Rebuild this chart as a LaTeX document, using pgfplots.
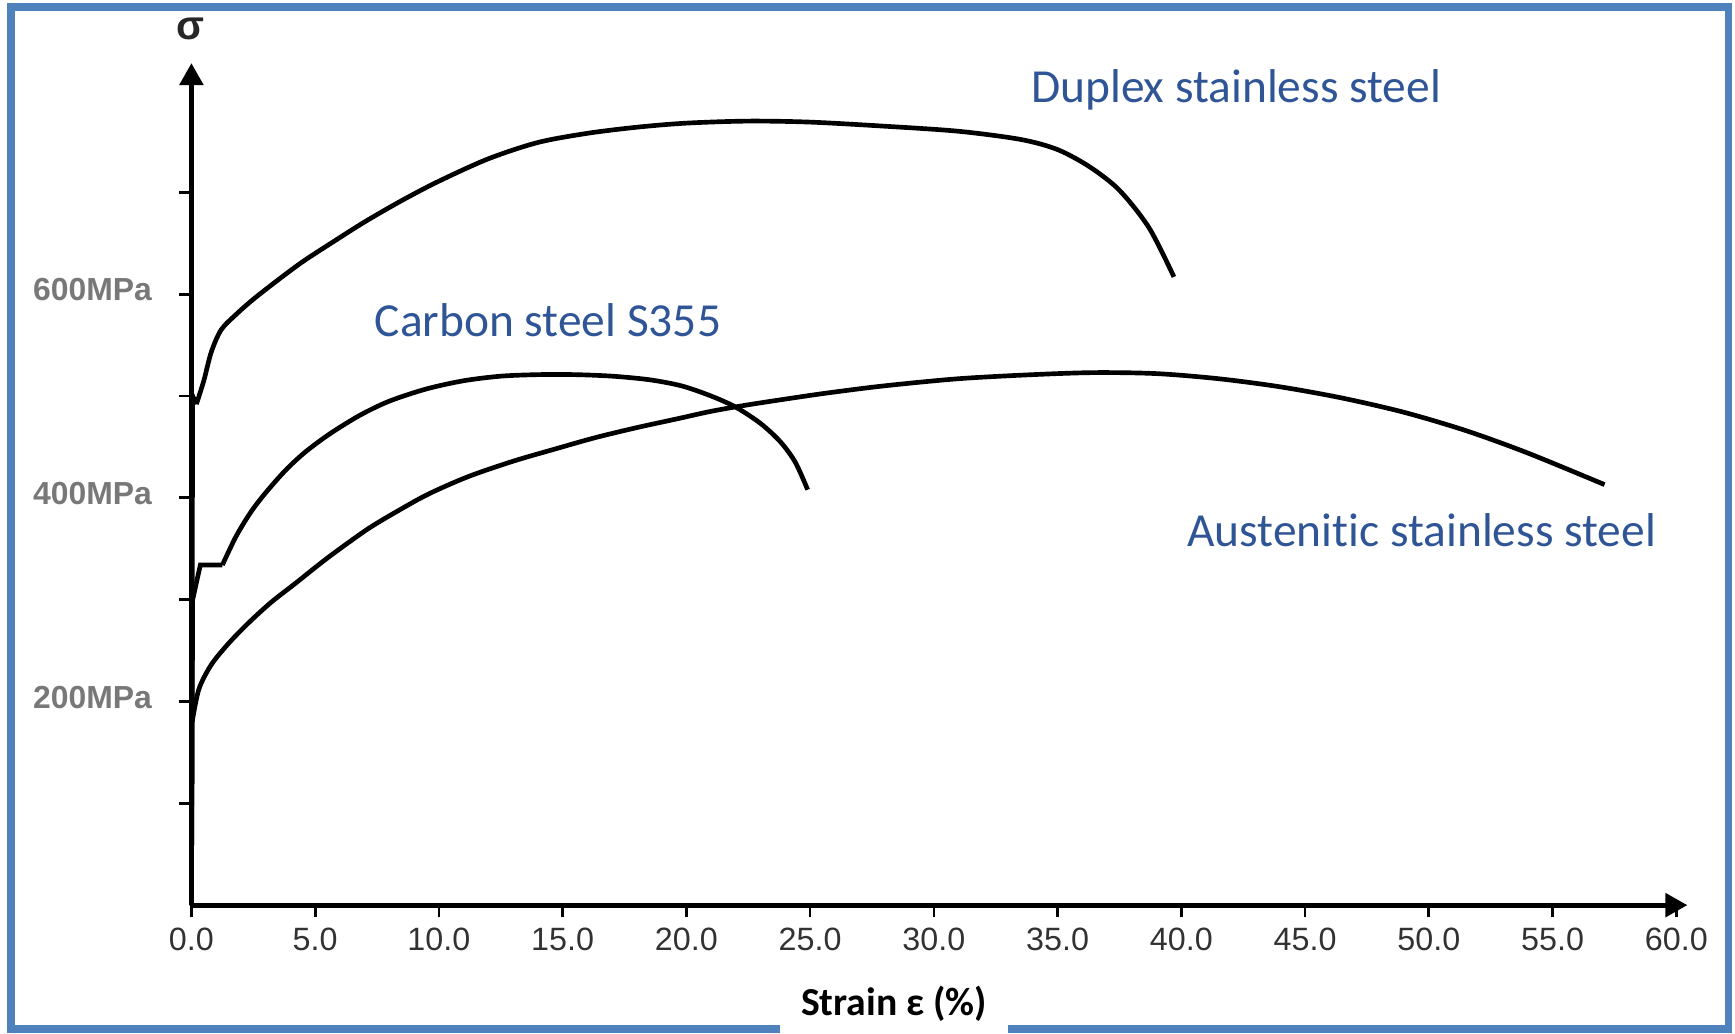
\documentclass[border=0pt]{standalone}
\usepackage{fontspec}
\setmainfont{Carlito}[Ligatures=NoCommon]
\newfontfamily\arialfont{Liberation Sans}
\usepackage{pgfplots}
\pgfplotsset{compat=1.18}
\usetikzlibrary{arrows.meta}
\definecolor{frameblue}{RGB}{79,129,189}
\definecolor{labelblue}{RGB}{47,85,151}
\definecolor{ticklabgray}{RGB}{120,120,120}
\definecolor{xlabgray}{RGB}{50,50,50}

\begin{document}
\begin{tikzpicture}
\useasboundingbox (-17.3mm,-11.6mm) rectangle (139.5mm,81.8mm);
\draw[frameblue, line width=0.7mm] (-16.3mm,-11.2mm) rectangle (138.9mm,81.2mm);
\fill[white] (53.2mm,-12.5mm) rectangle (73.8mm,-6mm);
\begin{axis}[
  at={(0,0)}, anchor=south west,
  scale only axis, width=135.2mm, height=76.1mm,
  xmin=0, xmax=60.45, ymin=0, ymax=827,
  axis lines=left,
  axis line style={line width=1.3pt, black, -{Triangle[length=2mm,width=2.1mm]}},
  xtick={0,5,...,60},
  xticklabels={0.0,5.0,10.0,15.0,20.0,25.0,30.0,35.0,40.0,45.0,50.0,55.0,60.0},
  ytick={100,200,...,700},
  yticklabels={,200MPa,,400MPa,,600MPa,},
  tick align=outside,
  major tick length=1.1mm,
  tick style={line width=0.7pt, black},
  xticklabel style={font=\arialfont\fontsize{8.3}{10}\selectfont, text=xlabgray, anchor=north, inner sep=0pt, yshift=-0.85mm},
  yticklabel style={font=\arialfont\bfseries\fontsize{8.2}{10}\selectfont, text=ticklabgray, anchor=east, inner sep=0pt, xshift=-2.4mm, yshift=0.4mm},
  clip=false,
]
% Duplex stainless steel
\addplot[black, line width=1.2pt] coordinates {(0,0) (0.05,500) (0.2,492)};
\addplot[black, line width=1.2pt, smooth] coordinates {
 (0.2,492) (0.5,515) (0.8,543) (1.2,565) (1.8,580) (2.5,595) (3.5,614) (4.5,632)
 (5.7,651) (7.0,671) (8.5,692) (10.0,711) (12.0,733) (14.0,749) (16.0,758)
 (18.0,764) (20.0,768) (22.5,770) (25.0,769) (28.0,765) (31.0,760) (33.5,752)
 (35.0,742) (36.3,725) (37.5,702) (38.7,665) (39.7,617)};
% Carbon steel S355
\addplot[black, line width=1.2pt] coordinates {(0,0) (0.05,300) (0.36,334) (1.25,334)};
\addplot[black, line width=1.2pt, smooth] coordinates {
 (1.25,334) (1.8,362) (2.4,386) (3.0,405) (3.8,427) (4.6,445) (5.6,463) (6.8,481)
 (8.0,495) (9.5,507) (11.0,515) (12.5,519.5) (14.0,521) (15.5,521) (17.0,519.5)
 (18.5,516) (19.8,510) (21.0,500) (22.0,489) (23.0,473) (23.8,455) (24.4,435)
 (24.9,408)};
% Austenitic stainless steel
\addplot[black, line width=1.2pt] coordinates {(0,0) (0.03,180)};
\addplot[black, line width=1.2pt, smooth] coordinates {
 (0.03,180) (0.3,212) (0.8,236) (1.5,257) (2.3,277) (3.2,297) (4.2,316) (5.5,341)
 (7.1,369) (8.4,388) (9.6,404) (11.2,421) (13.0,436) (14.7,448) (16.3,459)
 (18.0,469) (19.7,478) (21.0,485) (22.4,491) (24.0,497) (25.7,503) (28.0,510)
 (31.0,517) (34.0,521) (36.5,523) (39.0,522) (41.5,517) (44.0,509) (46.5,498)
 (49.0,484) (51.5,466) (54.0,444) (57.1,413)};
\end{axis}
\node[font=\arialfont\bfseries\fontsize{10.5}{12}\selectfont, text=black!85] at (-0.1mm,79.2mm) {σ};
\node[anchor=base east, inner sep=0pt, text=labelblue, font=\fontsize{12.2}{14}\selectfont] at (113.0mm,72.5mm) {Duplex stainless steel};
\node[anchor=base west, inner sep=0pt, text=labelblue, font=\fontsize{12.2}{14}\selectfont] at (16.5mm,51.35mm) {Carbon steel S355};
\node[anchor=base west, inner sep=0pt, text=labelblue, font=\fontsize{12.2}{14}\selectfont] at (89.95mm,32.4mm) {Austenitic stainless steel};
\node[anchor=base, inner sep=0pt, font=\bfseries\fontsize{10.2}{12}\selectfont] at (63.5mm,-10.0mm) {Strain ε (\%)};
\end{tikzpicture}
\end{document}
